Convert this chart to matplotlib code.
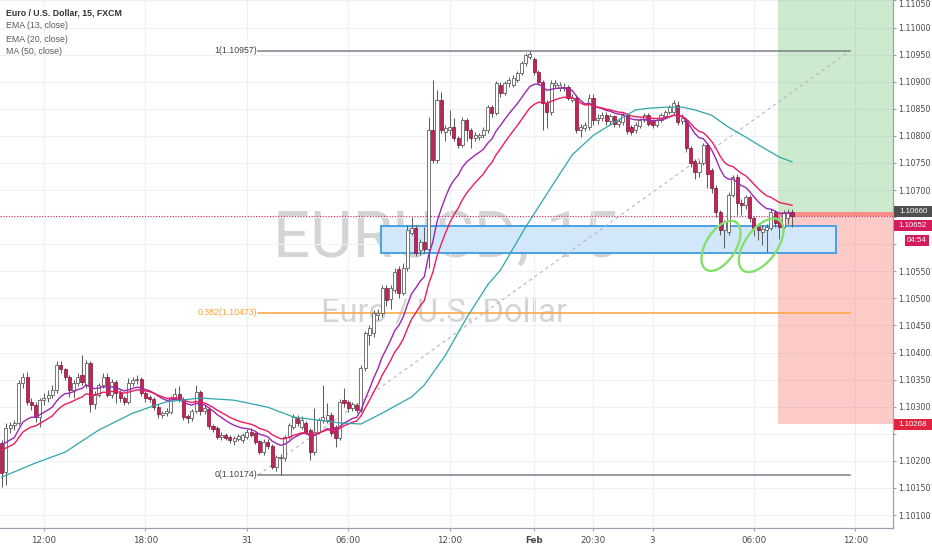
import matplotlib
matplotlib.use("Agg")
import matplotlib.pyplot as plt
import matplotlib.transforms as mtrans
from matplotlib.patches import Rectangle
from matplotlib import font_manager
import numpy as np

# ---------------- data (EURUSD 15m, FXCM) ----------------
opens = [1.10233, 1.10180, 1.10261, 1.10266, 1.10270, 1.10344, 1.10355, 1.10309, 1.10303, 1.10281,
         1.10312, 1.10316, 1.10322, 1.10331, 1.10377, 1.10369, 1.10355, 1.10331, 1.10344, 1.10358,
         1.10340, 1.10381, 1.10305, 1.10322, 1.10340, 1.10355, 1.10322, 1.10346, 1.10325, 1.10316,
         1.10309, 1.10344, 1.10349, 1.10351, 1.10325, 1.10318, 1.10314, 1.10300, 1.10285, 1.10288,
         1.10290, 1.10316, 1.10323, 1.10314, 1.10283, 1.10279, 1.10292, 1.10327, 1.10292, 1.10296,
         1.10265, 1.10260, 1.10244, 1.10248, 1.10244, 1.10236, 1.10240, 1.10238, 1.10244, 1.10253,
         1.10251, 1.10236, 1.10216, 1.10235, 1.10228, 1.10189, 1.10205, 1.10205, 1.10244, 1.10262,
         1.10280, 1.10262, 1.10270, 1.10257, 1.10216, 1.10253, 1.10275, 1.10275, 1.10285, 1.10262,
         1.10242, 1.10312, 1.10309, 1.10298, 1.10303, 1.10294, 1.10371, 1.10432, 1.10436, 1.10469,
         1.10473, 1.10519, 1.10499, 1.10515, 1.10554, 1.10510, 1.10556, 1.10621, 1.10630, 1.10589,
         1.10604, 1.10592, 1.10811, 1.10755, 1.10866, 1.10807, 1.10811, 1.10816, 1.10796, 1.10783,
         1.10829, 1.10811, 1.10796, 1.10798, 1.10801, 1.10811, 1.10853, 1.10842, 1.10894, 1.10879,
         1.10897, 1.10894, 1.10903, 1.10916, 1.10934, 1.10945, 1.10942, 1.10918, 1.10899, 1.10861,
         1.10844, 1.10894, 1.10888, 1.10888, 1.10890, 1.10866, 1.10870, 1.10811, 1.10814, 1.10816,
         1.10870, 1.10829, 1.10833, 1.10838, 1.10827, 1.10836, 1.10822, 1.10825, 1.10838, 1.10816,
         1.10811, 1.10818, 1.10829, 1.10838, 1.10827, 1.10820, 1.10829, 1.10836, 1.10844, 1.10844,
         1.10857, 1.10827, 1.10829, 1.10777, 1.10753, 1.10733, 1.10750, 1.10783, 1.10737, 1.10704,
         1.10659, 1.10626, 1.10622, 1.10691, 1.10724, 1.10676, 1.10672, 1.10687, 1.10648, 1.10632,
         1.10622, 1.10626, 1.10630, 1.10659, 1.10645, 1.10632, 1.10648, 1.10659]
highs = [1.10238, 1.10270, 1.10272, 1.10275, 1.10349, 1.10362, 1.10364, 1.10316, 1.10309, 1.10316,
         1.10325, 1.10331, 1.10340, 1.10384, 1.10384, 1.10371, 1.10358, 1.10349, 1.10362, 1.10395,
         1.10386, 1.10384, 1.10329, 1.10344, 1.10362, 1.10362, 1.10351, 1.10349, 1.10331, 1.10320,
         1.10353, 1.10355, 1.10358, 1.10355, 1.10329, 1.10322, 1.10318, 1.10305, 1.10292, 1.10298,
         1.10320, 1.10334, 1.10338, 1.10318, 1.10287, 1.10296, 1.10340, 1.10331, 1.10303, 1.10300,
         1.10268, 1.10264, 1.10253, 1.10251, 1.10248, 1.10246, 1.10249, 1.10251, 1.10258, 1.10261,
         1.10254, 1.10239, 1.10240, 1.10240, 1.10231, 1.10211, 1.10213, 1.10248, 1.10270, 1.10286,
         1.10285, 1.10283, 1.10273, 1.10260, 1.10298, 1.10279, 1.10340, 1.10307, 1.10290, 1.10266,
         1.10314, 1.10334, 1.10312, 1.10309, 1.10307, 1.10377, 1.10440, 1.10451, 1.10478, 1.10480,
         1.10525, 1.10525, 1.10525, 1.10556, 1.10560, 1.10565, 1.10635, 1.10650, 1.10635, 1.10610,
         1.10632, 1.10835, 1.10903, 1.10885, 1.10881, 1.10820, 1.10848, 1.10833, 1.10800, 1.10835,
         1.10833, 1.10815, 1.10807, 1.10805, 1.10816, 1.10857, 1.10857, 1.10901, 1.10899, 1.10901,
         1.10908, 1.10912, 1.10920, 1.10938, 1.10953, 1.10957, 1.10945, 1.10921, 1.10903, 1.10866,
         1.10903, 1.10903, 1.10899, 1.10897, 1.10894, 1.10877, 1.10875, 1.10822, 1.10825, 1.10877,
         1.10877, 1.10840, 1.10844, 1.10844, 1.10840, 1.10838, 1.10831, 1.10842, 1.10842, 1.10820,
         1.10825, 1.10833, 1.10842, 1.10842, 1.10831, 1.10833, 1.10842, 1.10848, 1.10857, 1.10866,
         1.10864, 1.10840, 1.10833, 1.10781, 1.10757, 1.10755, 1.10787, 1.10787, 1.10740, 1.10709,
         1.10663, 1.10645, 1.10696, 1.10728, 1.10730, 1.10683, 1.10691, 1.10691, 1.10652, 1.10635,
         1.10635, 1.10637, 1.10665, 1.10663, 1.10650, 1.10663, 1.10665, 1.10665]
lows = [1.10152, 1.10155, 1.10251, 1.10257, 1.10266, 1.10334, 1.10303, 1.10294, 1.10272, 1.10262,
        1.10303, 1.10309, 1.10316, 1.10325, 1.10362, 1.10349, 1.10318, 1.10316, 1.10338, 1.10340,
        1.10334, 1.10290, 1.10296, 1.10318, 1.10334, 1.10318, 1.10316, 1.10307, 1.10309, 1.10303,
        1.10305, 1.10338, 1.10342, 1.10320, 1.10309, 1.10309, 1.10294, 1.10279, 1.10279, 1.10283,
        1.10287, 1.10312, 1.10309, 1.10276, 1.10270, 1.10274, 1.10288, 1.10285, 1.10287, 1.10259,
        1.10253, 1.10240, 1.10238, 1.10238, 1.10233, 1.10229, 1.10236, 1.10233, 1.10240, 1.10244,
        1.10231, 1.10213, 1.10211, 1.10222, 1.10185, 1.10182, 1.10174, 1.10200, 1.10240, 1.10258,
        1.10264, 1.10259, 1.10249, 1.10202, 1.10211, 1.10249, 1.10270, 1.10270, 1.10246, 1.10226,
        1.10238, 1.10300, 1.10290, 1.10292, 1.10288, 1.10290, 1.10366, 1.10414, 1.10429, 1.10460,
        1.10465, 1.10486, 1.10480, 1.10510, 1.10500, 1.10506, 1.10550, 1.10617, 1.10578, 1.10580,
        1.10584, 1.10556, 1.10750, 1.10750, 1.10805, 1.10790, 1.10801, 1.10790, 1.10777, 1.10779,
        1.10790, 1.10777, 1.10790, 1.10792, 1.10796, 1.10805, 1.10835, 1.10838, 1.10872, 1.10875,
        1.10890, 1.10890, 1.10899, 1.10912, 1.10929, 1.10942, 1.10912, 1.10894, 1.10811, 1.10814,
        1.10838, 1.10888, 1.10883, 1.10883, 1.10866, 1.10862, 1.10805, 1.10798, 1.10809, 1.10811,
        1.10820, 1.10822, 1.10827, 1.10820, 1.10820, 1.10816, 1.10816, 1.10820, 1.10803, 1.10801,
        1.10805, 1.10814, 1.10825, 1.10818, 1.10814, 1.10816, 1.10825, 1.10831, 1.10840, 1.10840,
        1.10820, 1.10822, 1.10770, 1.10742, 1.10720, 1.10724, 1.10746, 1.10704, 1.10694, 1.10650,
        1.10617, 1.10593, 1.10617, 1.10687, 1.10654, 1.10654, 1.10665, 1.10641, 1.10615, 1.10608,
        1.10598, 1.10585, 1.10626, 1.10632, 1.10610, 1.10628, 1.10637, 1.10632]
closes = [1.10178, 1.10261, 1.10266, 1.10270, 1.10344, 1.10355, 1.10309, 1.10303, 1.10281, 1.10312,
          1.10316, 1.10322, 1.10331, 1.10377, 1.10369, 1.10355, 1.10331, 1.10344, 1.10355, 1.10346,
          1.10381, 1.10305, 1.10322, 1.10340, 1.10355, 1.10322, 1.10346, 1.10325, 1.10316, 1.10309,
          1.10344, 1.10349, 1.10351, 1.10325, 1.10316, 1.10314, 1.10299, 1.10287, 1.10288, 1.10292,
          1.10316, 1.10323, 1.10312, 1.10281, 1.10279, 1.10292, 1.10327, 1.10292, 1.10298, 1.10265,
          1.10258, 1.10244, 1.10248, 1.10243, 1.10239, 1.10242, 1.10245, 1.10247, 1.10254, 1.10248,
          1.10235, 1.10216, 1.10235, 1.10227, 1.10189, 1.10207, 1.10207, 1.10244, 1.10266, 1.10281,
          1.10270, 1.10275, 1.10253, 1.10216, 1.10253, 1.10275, 1.10281, 1.10285, 1.10251, 1.10242,
          1.10309, 1.10307, 1.10298, 1.10305, 1.10294, 1.10371, 1.10436, 1.10445, 1.10473, 1.10473,
          1.10519, 1.10497, 1.10519, 1.10549, 1.10510, 1.10556, 1.10626, 1.10630, 1.10584, 1.10604,
          1.10592, 1.10811, 1.10755, 1.10866, 1.10811, 1.10814, 1.10816, 1.10796, 1.10783, 1.10829,
          1.10811, 1.10796, 1.10801, 1.10801, 1.10811, 1.10853, 1.10842, 1.10897, 1.10879, 1.10897,
          1.10903, 1.10907, 1.10916, 1.10934, 1.10949, 1.10951, 1.10918, 1.10899, 1.10861, 1.10844,
          1.10897, 1.10897, 1.10894, 1.10890, 1.10870, 1.10870, 1.10811, 1.10816, 1.10820, 1.10870,
          1.10829, 1.10833, 1.10838, 1.10827, 1.10836, 1.10822, 1.10827, 1.10838, 1.10809, 1.10807,
          1.10820, 1.10829, 1.10838, 1.10822, 1.10820, 1.10829, 1.10838, 1.10844, 1.10853, 1.10861,
          1.10825, 1.10833, 1.10777, 1.10750, 1.10733, 1.10750, 1.10783, 1.10730, 1.10704, 1.10659,
          1.10626, 1.10641, 1.10691, 1.10724, 1.10676, 1.10672, 1.10687, 1.10648, 1.10630, 1.10626,
          1.10628, 1.10632, 1.10659, 1.10639, 1.10632, 1.10657, 1.10659, 1.10652]

# indicator starting values (at the first visible bar)
ema13_seed = 1.10238
ema20_seed = 1.10224
# MA(50) line (bar index, value)
ma50_bars = [0, 8, 15, 23, 31, 35, 39, 47, 55, 63, 69, 75, 80, 85, 90, 97, 100, 105, 110, 115,
             118, 124, 130, 135, 140, 145, 150, 153, 157, 161, 164, 168, 172, 176, 180, 184, 187]
ma50_values = [1.10170, 1.10196, 1.10216, 1.10257, 1.10288, 1.10299, 1.10309, 1.10316, 1.10312,
               1.10299, 1.10281, 1.10275, 1.10270, 1.10268, 1.10288, 1.10318, 1.10340, 1.10395,
               1.10464, 1.10525, 1.10552, 1.10632, 1.10705, 1.10765, 1.10801, 1.10825, 1.10848,
               1.10851, 1.10853, 1.10853, 1.10848, 1.10838, 1.10816, 1.10798, 1.10779, 1.10761,
               1.10752]

time_labels = ["12:00", "18:00", "31", "06:00", "12:00", "Feb", "20:30", "3", "06:00", "12:00"]
time_label_bars = [10, 34, 58, 82, 106, 126, 140, 154, 178, 202]

fib_low, fib_high = 1.10174, 1.10957
fib_levels = [1, 0.382, 0]
zone_low, zone_high = 1.10584, 1.10634
entry_price, stop_price, target_price = 1.10660, 1.10268, 1.11300
countdown = "04:54"

title = "Euro / U.S. Dollar, 15, FXCM"
legend_lines = ["EMA (13, close)", "EMA (20, close)", "MA (50, close)"]

# ---------------- figure ----------------
W, H = 932, 550
fig = plt.figure(figsize=(W / 100, H / 100), dpi=100)
AX_W, AX_H, AX_B = 893, 528, 22
ax = fig.add_axes([0, AX_B / H, AX_W / W, AX_H / H])
XMIN, XMAX = -0.40, 210.9
YMIN, YMAX = 1.10076, 1.110509
ax.set_xlim(XMIN, XMAX)
ax.set_ylim(YMIN, YMAX)
px_per_bar = AX_W / (XMAX - XMIN)
px_per_price = AX_H / (YMAX - YMIN)

names = {f.name for f in font_manager.fontManager.ttflist}
small_font = "Liberation Sans" if "Liberation Sans" in names else "DejaVu Sans"
if "Liberation Sans Narrow" in names:
    wm_font, wm_big, wm_small = "Liberation Sans Narrow", 54, 27
else:
    wm_font, wm_big, wm_small = "Roboto", 47, 23.5
plt.rcParams["font.family"] = [small_font, "DejaVu Sans"]

FS = 6.3
YFS = 5.7
TXT = "#4a4a4a"

# grid / spines / ticks
ax.set_axisbelow(True)
ax.grid(True, color="#eef1f6", lw=0.8)
for s in ["top", "left"]:
    ax.spines[s].set_visible(False)
for s in ["right", "bottom"]:
    ax.spines[s].set_color("#9ea2aa")
    ax.spines[s].set_linewidth(0.9)
ax.yaxis.tick_right()
price_ticks = np.round(np.arange(1.10100, 1.110501, 0.0005), 5)
ax.set_yticks(price_ticks)
hidden = {1.10650, 1.10250, 1.10600}
ax.set_yticklabels(["" if round(t, 5) in hidden else f"{t:.5f}" for t in price_ticks])
ax.set_xticks(time_label_bars)
ax.set_xticklabels(time_labels)
ax.tick_params(axis="y", length=2.5, pad=1.4, labelsize=YFS, colors="#9ea2aa", labelcolor=TXT)
ax.tick_params(axis="x", length=2.5, pad=3.0, labelsize=FS, colors="#9ea2aa", labelcolor=TXT)
ax.get_xticklabels()[5].set_fontweight("bold")
ax.get_yticklabels()[-1].set_verticalalignment("top")

# watermark
ax.text(0.4994, 0.5133, "EURUSD, 15", transform=ax.transAxes, ha="center", va="baseline",
        fontsize=wm_big, family=wm_font, color=(0.45, 0.45, 0.45), alpha=0.30, zorder=0.5)
ax.text(0.497, 0.3902, "Euro / U.S. Dollar", transform=ax.transAxes, ha="center", va="baseline",
        fontsize=wm_small, family=wm_font, color=(0.45, 0.45, 0.45), alpha=0.30, zorder=0.5)

# long position tool
pos_x0 = 183.7
ax.add_patch(Rectangle((pos_x0, entry_price), 40, target_price - entry_price,
                       fc=(0.30, 0.69, 0.31, 0.28), ec="none", zorder=1))
ax.add_patch(Rectangle((pos_x0, stop_price), 40, entry_price - stop_price,
                       fc=(0.96, 0.26, 0.21, 0.27), ec="none", zorder=1))
last_price = closes[-1]
ax.add_patch(Rectangle((pos_x0, last_price), 40, entry_price - last_price,
                       fc=(0.96, 0.26, 0.21, 0.45), ec="none", zorder=1))

# support zone
zone_x0, zone_x1 = 89.8, 197.4
ax.add_patch(Rectangle((zone_x0, zone_low), zone_x1 - zone_x0, zone_high - zone_low,
                       fc="#d3e7fb", ec="#3d9be2", lw=1.3, zorder=1.5))

# fibonacci
fib_x0, fib_x1 = 60.7, 200.7
ax.plot([fib_x0, fib_x1], [fib_low, fib_high], color="#b5b8bf", lw=0.8,
        dashes=(3, 3), zorder=2)
for lvl in fib_levels:
    p = fib_low + lvl * (fib_high - fib_low)
    col = "#ffa33a" if lvl not in (0, 1) else "#7b7e86"
    tcol = "#ff9f30" if lvl not in (0, 1) else "#444444"
    ax.plot([fib_x0, fib_x1], [p, p], color=col, lw=1.1, zorder=2)
    ax.text(fib_x0 - 0.2, p, f"{lvl:g}({p:.5f})", ha="right", va="center",
            fontsize=FS, color=tcol, zorder=2)

# current price dotted line
ax.axhline(last_price, color="#e91e63", lw=0.8, ls=(0, (1, 1.5)), zorder=2)

# candles
x = np.arange(len(closes))
o = np.array(opens); c = np.array(closes); h = np.array(highs); l = np.array(lows)
up = c >= o
ax.vlines(x, l, h, color="#5f5f5f", lw=0.75, zorder=4)
bb = np.minimum(o, c)
bh = np.maximum(np.abs(c - o), 0.000015)
ax.bar(x[up], bh[up], bottom=bb[up], width=0.72, color="white", edgecolor="#5f5f5f",
       linewidth=0.6, zorder=5)
ax.bar(x[~up], bh[~up], bottom=bb[~up], width=0.72, color="#c8205a", edgecolor="#7a1538",
       linewidth=0.5, zorder=5)

# indicators
def ema(vals, span, seed):
    a = 2.0 / (span + 1)
    out, e = [], seed
    for v in vals:
        e = e + a * (v - e)
        out.append(e)
    return out

ax.plot(x, ema(closes, 13, ema13_seed), color="#9c27b0", lw=1.0, zorder=6)
ax.plot(x, ema(closes, 20, ema20_seed), color="#ec1c5c", lw=1.0, zorder=6)
ax.plot(ma50_bars, ma50_values, color="#2fa6aa", lw=0.9, zorder=6)

# green ellipses (hand-drawn highlights)
t = np.linspace(0, 2 * np.pi, 200)
for cb, cp, a_px, b_px, ang in [(170.2, 1.10597, 28, 15, 58), (179.7, 1.10598, 31, 16, 54)]:
    th = np.deg2rad(ang)
    dx = a_px * np.cos(t) * np.cos(th) - b_px * np.sin(t) * np.sin(th)
    dy = a_px * np.cos(t) * np.sin(th) + b_px * np.sin(t) * np.cos(th)
    ax.plot(cb + dx / px_per_bar, cp + dy / px_per_price, color="#84e06c", lw=1.7, zorder=7)

# right-axis price boxes
trans = mtrans.blended_transform_factory(fig.transFigure, ax.transData)
def price_box(p, text, fc, x0=894, x1=932, h_px=11):
    hp = h_px / px_per_price
    fig.add_artist(Rectangle((x0 / W, p - hp / 2), (x1 - x0) / W, hp, transform=trans,
                             fc=fc, ec="none", zorder=10, clip_on=False))
    fig.text((x0 + x1) / 2 / W, p, text, transform=trans, ha="center", va="center",
             color="white", fontsize=YFS, zorder=11)

price_box(entry_price, f"{entry_price:.5f}", "#4f4f4f")
price_box(last_price - 9 / px_per_price, f"{last_price:.5f}", "#d41c5c")
price_box(last_price - 24 / px_per_price, countdown, "#d41c5c", x0=905, x1=929)
price_box(stop_price, f"{stop_price:.5f}", "#e0243f")

# legend (top-left)
fig.text(6 / W, 1 - 13 / H, title, ha="left", va="center", fontsize=FS, fontweight="bold",
         color="#333333")
for i, s in enumerate(legend_lines):
    fig.text(6 / W, 1 - (26 + 13 * i) / H, s, ha="left", va="center", fontsize=FS,
             color="#5a5a5a")

fig.savefig("out.png", dpi=100)
